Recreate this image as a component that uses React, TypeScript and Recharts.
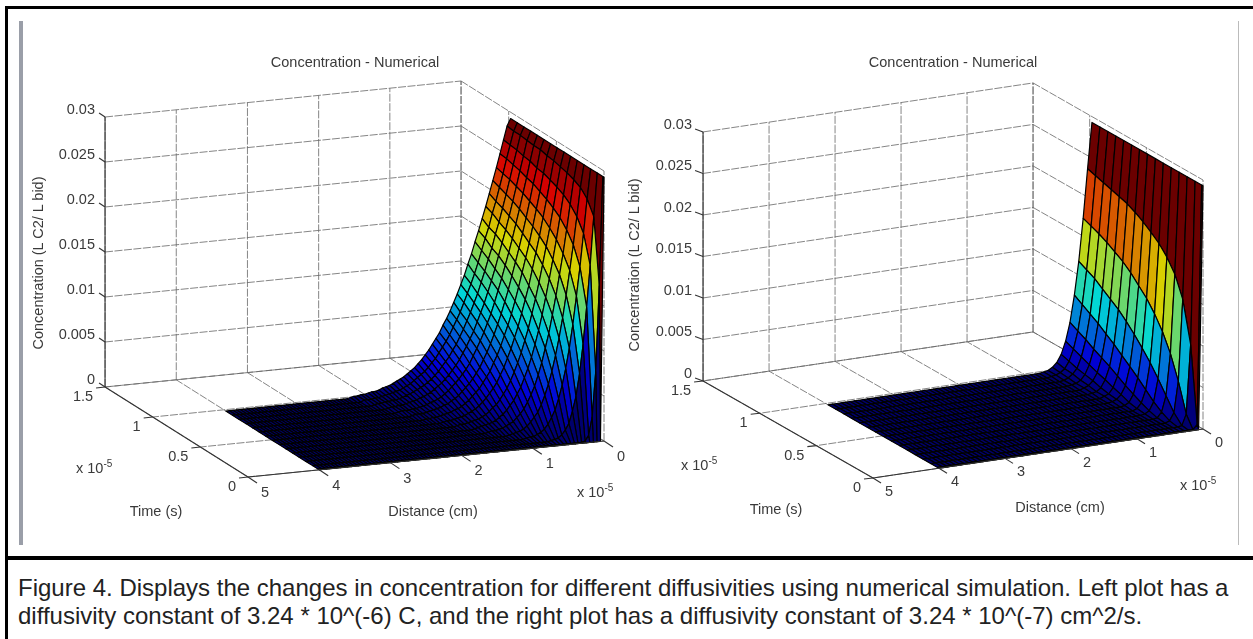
import React from 'react';
import { ScatterChart, Scatter, XAxis, YAxis } from 'recharts';

const WIDTH = 1253;
const HEIGHT = 639;

// time (x 10^-5 s) of each mesh row
const TIME_GRID = [0, 0.012, 0.07, 0.14, 0.21, 0.28, 0.35, 0.42, 0.49, 0.56, 0.63, 0.7, 0.77, 0.84, 0.91, 0.98];

// concentration in units of 1e-4, one row per time, one entry per distance step. Missing entries are the flat floor.
const LEFT_CONC = [
  [293],
  [293, 172, 77, 27, 7, 1],
  [293, 245, 191, 145, 104, 72, 47, 31, 18, 11, 6, 3, 2, 1],
  [293, 260, 222, 185, 153, 122, 96, 74, 56, 41, 29, 21, 14, 9, 6, 4, 2, 2, 1],
  [293, 268, 236, 205, 177, 150, 125, 103, 84, 67, 53, 41, 31, 23, 18, 13, 9, 6, 4, 3, 2, 1],
  [293, 272, 245, 217, 191, 168, 145, 124, 104, 88, 72, 59, 47, 38, 30, 23, 18, 14, 10, 8, 6, 4, 3, 2, 2, 1],
  [293, 275, 251, 226, 202, 180, 159, 139, 120, 103, 88, 74, 62, 52, 42, 35, 28, 23, 18, 14, 11, 8, 6, 5, 4, 3, 2, 1],
  [293, 277, 255, 232, 210, 190, 170, 151, 133, 117, 101, 88, 75, 64, 54, 45, 37, 31, 25, 20, 17, 13, 10, 8, 6, 5, 4, 3, 2, 2, 1],
  [293, 279, 258, 237, 217, 197, 179, 161, 143, 128, 113, 99, 87, 75, 65, 55, 47, 39, 33, 28, 23, 19, 15, 12, 10, 8, 6, 5, 4, 3, 2, 2, 1],
  [293, 280, 261, 241, 222, 203, 185, 169, 153, 137, 122, 108, 96, 85, 74, 64, 56, 47, 41, 35, 29, 25, 21, 17, 14, 11, 9, 8, 6, 5, 4, 3, 2, 2, 1, 1],
  [293, 282, 262, 245, 226, 208, 191, 175, 160, 145, 130, 117, 104, 93, 82, 72, 63, 55, 47, 41, 35, 30, 26, 22, 18, 15, 13, 10, 9, 7, 6, 5, 4, 3, 2, 2, 2, 1],
  [293, 282, 265, 247, 230, 213, 197, 181, 166, 152, 138, 125, 112, 100, 90, 80, 71, 63, 55, 47, 41, 36, 31, 27, 23, 19, 16, 13, 11, 9, 8, 6, 5, 4, 3, 3, 2, 2, 2, 1],
  [293, 283, 266, 250, 233, 217, 201, 186, 172, 158, 144, 131, 119, 107, 97, 87, 77, 69, 61, 54, 47, 41, 36, 31, 27, 23, 20, 17, 14, 12, 10, 9, 7, 6, 5, 4, 3, 3, 2, 2, 1],
  [293, 284, 268, 252, 236, 220, 205, 190, 177, 162, 150, 137, 125, 113, 103, 93, 84, 75, 67, 59, 53, 46, 41, 36, 31, 27, 23, 20, 17, 15, 13, 11, 9, 8, 6, 5, 4, 4, 3, 3, 2, 2, 1],
  [293, 284, 269, 254, 238, 223, 208, 195, 180, 168, 155, 142, 130, 119, 109, 99, 89, 81, 73, 65, 58, 52, 46, 40, 36, 31, 27, 24, 21, 18, 15, 13, 11, 9, 8, 7, 6, 5, 4, 3, 3, 2, 2, 2],
  [293, 285, 270, 255, 240, 226, 212, 198, 185, 172, 160, 147, 136, 124, 114, 104, 95, 86, 78, 71, 63, 57, 51, 45, 40, 35, 31, 27, 24, 21, 18, 16, 14, 12, 10, 9, 8, 6, 5, 5, 4, 3, 3, 2, 2, 1],
];

const RIGHT_CONC = [
  [293],
  [293, 5],
  [293, 97, 14, 1],
  [293, 146, 48, 11, 2],
  [293, 171, 76, 26, 7, 1],
  [293, 186, 97, 41, 14, 4, 1],
  [293, 197, 113, 55, 23, 8, 2],
  [293, 205, 126, 67, 32, 13, 4, 1],
  [293, 212, 136, 78, 40, 18, 8, 3, 1],
  [293, 218, 146, 88, 48, 24, 11, 4, 2],
  [293, 223, 154, 97, 56, 30, 15, 6, 2, 1],
  [293, 226, 160, 104, 63, 35, 18, 9, 4, 2],
  [293, 229, 166, 111, 70, 40, 22, 11, 5, 2, 1],
  [293, 232, 171, 118, 76, 46, 26, 13, 7, 3, 1],
  [293, 235, 175, 123, 82, 51, 30, 16, 8, 4, 2, 1],
  [293, 238, 179, 128, 88, 56, 34, 19, 10, 5, 2, 1],
];

const CONC_TICKS = [0, 0.005, 0.01, 0.015, 0.02, 0.025, 0.03];
const CONC_LABELS = ['0', '0.005', '0.01', '0.015', '0.02', '0.025', '0.03'];
const DIST_TICKS = [0, 1, 2, 3, 4, 5];
const TIME_TICKS = [0, 0.5, 1, 1.5];
const TIME_LABELS = ['0', '0.5', '1', '1.5'];

const TITLE = 'Concentration - Numerical';
const Z_TITLE = 'Concentration (L C2/ L bid)';

// where each 3D box lands on the page
const LEFT_VIEW = {
  conc: LEFT_CONC, dStep: 0.05, dCells: 80,
  o: [604, 441], dv: [-71.2, 7.2], tv: [-95.3, -60], cv: 270 / 0.03,
  zLabel: -8.5, zRight: 95, zTick: [-6, -4], tLabel: [-12, 9], tTick: [-9, 1], dLabel: [17, 15], dTick: [9, 6],
  title: [355, 66], zTitle: [38, 263], timeTitle: [156, 515], distTitle: [433, 515], timeExp: [76, 472], distExp: [577, 496],
};
const RIGHT_VIEW = {
  conc: RIGHT_CONC, dStep: 4 / 60, dCells: 60,
  o: [1203, 429], dv: [-66, 9.8], tv: [-113.3, -64.7], cv: 249 / 0.03,
  zLabel: -8, zRight: 692, zTick: [-8, -3], tLabel: [-12, 9], tTick: [-9, 1], dLabel: [16, 13], dTick: [8, 5],
  title: [953, 66], zTitle: [634, 265], timeTitle: [776, 513], distTitle: [1060, 511], timeExp: [681, 469], distExp: [1180, 489],
};

const clamp = (v: number) => Math.max(0, Math.min(1, v));
// jet colormap, dimmed a bit since the reference mesh is so dense it darkens every facet
const jet = (v: number) => {
  const r = clamp(Math.min(4 * v - 1.5, -4 * v + 4.5));
  const g = clamp(Math.min(4 * v - 0.5, -4 * v + 3.5));
  const b = clamp(Math.min(4 * v + 0.5, -4 * v + 2.5));
  return `rgb(${Math.round(r * 215)},${Math.round(g * 215)},${Math.round(b * 215)})`;
};

const project = (view: any, d: number, t: number, c: number) => [
  view.o[0] + view.dv[0] * d + view.tv[0] * t,
  view.o[1] + view.dv[1] * d + view.tv[1] * t - view.cv * c,
];

const buildCells = (view: any) => {
  const cells: any[] = [];
  const height = (i: number, j: number) => (view.conc[i][j] ?? 0) * 1e-4;
  for (let i = TIME_GRID.length - 2; i >= 0; i--) {
    for (let j = 0; j < view.dCells; j++) {
      const corners = [
        project(view, j * view.dStep, TIME_GRID[i], height(i, j)),
        project(view, (j + 1) * view.dStep, TIME_GRID[i], height(i, j + 1)),
        project(view, (j + 1) * view.dStep, TIME_GRID[i + 1], height(i + 1, j + 1)),
        project(view, j * view.dStep, TIME_GRID[i + 1], height(i + 1, j)),
      ];
      const [x, y] = corners[0];
      cells.push({
        x, y,
        offsets: corners.map(([px, py]) => [px - x, py - y]),
        fill: jet(height(i, j) / 0.0293),
      });
    }
  }
  return cells;
};

const segment = (a: number[], b: number[]) => ({ x: a[0], y: a[1], dx: b[0] - a[0], dy: b[1] - a[1] });

const buildGrid = (view: any) => {
  const lines: any[] = [];
  const top = CONC_TICKS[CONC_TICKS.length - 1];
  DIST_TICKS.forEach((d) => {
    lines.push(segment(project(view, d, 1.5, 0), project(view, d, 1.5, top)));
    lines.push(segment(project(view, d, 0, 0), project(view, d, 1.5, 0)));
  });
  TIME_TICKS.forEach((t) => {
    lines.push(segment(project(view, 0, t, 0), project(view, 0, t, top)));
    lines.push(segment(project(view, 0, t, 0), project(view, 5, t, 0)));
  });
  CONC_TICKS.forEach((c) => {
    lines.push(segment(project(view, 5, 1.5, c), project(view, 0, 1.5, c)));
    lines.push(segment(project(view, 0, 1.5, c), project(view, 0, 0, c)));
  });
  return lines;
};

const buildAxes = (view: any) => {
  const lines: any[] = [
    segment(project(view, 5, 1.5, 0), project(view, 5, 1.5, 0.03)),
    segment(project(view, 5, 1.5, 0), project(view, 5, 0, 0)),
    segment(project(view, 5, 0, 0), project(view, 0, 0, 0)),
  ];
  const tick = (p: number[], v: number[]) => lines.push(segment(p, [p[0] + v[0], p[1] + v[1]]));
  CONC_TICKS.forEach((c) => tick(project(view, 5, 1.5, c), view.zTick));
  TIME_TICKS.forEach((t) => tick(project(view, 5, t, 0), view.tTick));
  DIST_TICKS.forEach((d) => tick(project(view, d, 0, 0), view.dTick));
  return lines;
};

const buildLabels = (view: any) => {
  const labels: any[] = [];
  CONC_TICKS.forEach((c, i) => {
    const y = project(view, 5, 1.5, c)[1];
    labels.push({ x: view.zRight, y: y + view.zLabel, text: CONC_LABELS[i], anchor: 'end' });
  });
  TIME_TICKS.forEach((t, i) => {
    const p = project(view, 5, t, 0);
    labels.push({ x: p[0] + view.tLabel[0], y: p[1] + view.tLabel[1], text: TIME_LABELS[i], anchor: 'end' });
  });
  DIST_TICKS.forEach((d) => {
    const p = project(view, d, 0, 0);
    labels.push({ x: p[0] + view.dLabel[0], y: p[1] + view.dLabel[1], text: String(d), anchor: 'middle' });
  });
  labels.push({ x: view.title[0], y: view.title[1] - 4, text: TITLE, anchor: 'middle' });
  labels.push({ x: view.zTitle[0], y: view.zTitle[1], text: Z_TITLE, anchor: 'middle', rotate: -90 });
  labels.push({ x: view.timeTitle[0], y: view.timeTitle[1] - 4, text: 'Time (s)', anchor: 'middle' });
  labels.push({ x: view.distTitle[0], y: view.distTitle[1] - 4, text: 'Distance (cm)', anchor: 'middle' });
  labels.push({ x: view.timeExp[0], y: view.timeExp[1] - 4, text: 'x 10', sup: '-5', anchor: 'start' });
  labels.push({ x: view.distExp[0], y: view.distExp[1] - 4, text: 'x 10', sup: '-5', anchor: 'start' });
  return labels;
};

const CellShape = (props: any) => {
  const { cx, cy, payload } = props;
  const points = payload.offsets.map(([dx, dy]: number[]) => `${cx + dx},${cy + dy}`).join(' ');
  return <polygon points={points} fill={payload.fill} stroke="#000" strokeWidth={1.2} strokeLinejoin="round" />;
};

const GridShape = (props: any) => {
  const { cx, cy, payload } = props;
  return <line x1={cx} y1={cy} x2={cx + payload.dx} y2={cy + payload.dy} stroke="#666" strokeWidth={0.8} strokeDasharray="8 1.5" />;
};

const AxisShape = (props: any) => {
  const { cx, cy, payload } = props;
  return <line x1={cx} y1={cy} x2={cx + payload.dx} y2={cy + payload.dy} stroke="#333" strokeWidth={1.1} />;
};

const LabelShape = (props: any) => {
  const { cx, cy, payload } = props;
  return (
    <text
      x={cx}
      y={cy}
      textAnchor={payload.anchor}
      dominantBaseline="central"
      fontFamily="'Liberation Sans', Arial, sans-serif"
      fontSize={14.5}
      fill="#3a3a3a"
      transform={payload.rotate ? `rotate(${payload.rotate} ${cx} ${cy})` : undefined}
    >
      {payload.text}
      {payload.sup ? <tspan dy={-5} fontSize={10}>{payload.sup}</tspan> : null}
    </text>
  );
};

const VIEWS = [LEFT_VIEW, RIGHT_VIEW];
const gridData = VIEWS.flatMap(buildGrid);
const axisData = VIEWS.flatMap(buildAxes);
const cellData = VIEWS.flatMap(buildCells);
const labelData = VIEWS.flatMap(buildLabels);

const CAPTION = [
  'Figure 4. Displays the changes in concentration for different diffusivities using numerical simulation. Left plot has a',
  'diffusivity constant of 3.24 * 10^(-6) C, and the right plot has a diffusivity constant of 3.24 * 10^(-7) cm^2/s.',
];

export default function App() {
  return (
    <div style={{ position: 'absolute', left: 0, top: 0, width: WIDTH, height: HEIGHT, background: '#fff', overflow: 'hidden' }}>
      <div style={{ position: 'absolute', left: 0, top: 0, filter: 'blur(0.7px)' }}>
        <ScatterChart width={WIDTH} height={HEIGHT} margin={{ top: 0, right: 0, bottom: 0, left: 0 }}>
          <XAxis dataKey="x" type="number" domain={[0, WIDTH]} hide />
          <YAxis dataKey="y" type="number" domain={[0, HEIGHT]} reversed hide />
          <Scatter data={gridData} shape={GridShape} isAnimationActive={false} />
          <Scatter data={cellData} shape={CellShape} isAnimationActive={false} />
          <Scatter data={axisData} shape={AxisShape} isAnimationActive={false} />
          <Scatter data={labelData} shape={LabelShape} isAnimationActive={false} />
        </ScatterChart>
      </div>
      <div style={{ position: 'absolute', left: 5, top: 6, width: WIDTH - 5, height: 3, background: '#000' }} />
      <div style={{ position: 'absolute', left: 5, top: 6, width: 3, height: HEIGHT - 6, background: '#000' }} />
      <div style={{ position: 'absolute', left: 5, top: 556, width: WIDTH - 5, height: 4, background: '#000' }} />
      <div style={{ position: 'absolute', left: 19, top: 21, width: 4, height: 524, background: '#9a9ea8' }} />
      <div style={{ position: 'absolute', left: 1238, top: 21, width: 1, height: 524, background: '#bbbbbb' }} />
      <div style={{ position: 'absolute', left: 18, top: 574, fontFamily: "'Liberation Sans', Arial, sans-serif", fontSize: 24, lineHeight: '28px', color: '#222', whiteSpace: 'nowrap' }}>
        {CAPTION.map((line) => <div key={line}>{line}</div>)}
      </div>
    </div>
  );
}
